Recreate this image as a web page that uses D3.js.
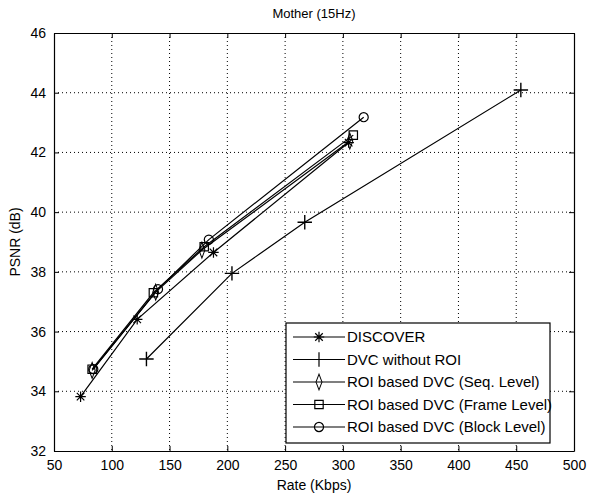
<!DOCTYPE html>
<html>
<head>
<meta charset="utf-8">
<script src="https://cdn.jsdelivr.net/npm/d3@7"></script>
<style>
  body { margin: 0; background: #fff; }
  text { font-family: "Liberation Sans", Arial, sans-serif; fill: #000; }
</style>
</head>
<body>
<script>
// Chart data
var seriesNames = ["DISCOVER", "DVC without ROI", "ROI based DVC (Seq. Level)",
  "ROI based DVC (Frame Level)", "ROI based DVC (Block Level)"];
var seriesMarkers = ["asterisk", "plus", "diamond", "square", "circle"];

var discoverRate = [73, 122, 188, 305];
var discoverPsnr = [33.82, 36.41, 38.65, 42.33];
var noRoiRate = [130, 204, 267, 454];
var noRoiPsnr = [35.08, 37.95, 39.66, 44.09];
var seqRate = [83, 138, 178, 306];
var seqPsnr = [34.7, 37.32, 38.73, 42.38];
var frameRate = [83, 136, 180, 309];
var framePsnr = [34.74, 37.3, 38.84, 42.58];
var blockRate = [84, 140, 184, 318];
var blockPsnr = [34.74, 37.42, 39.08, 43.18];

var xTicks = [50, 100, 150, 200, 250, 300, 350, 400, 450, 500];
var yTicks = [32, 34, 36, 38, 40, 42, 44, 46];

var allRates = [discoverRate, noRoiRate, seqRate, frameRate, blockRate];
var allPsnr = [discoverPsnr, noRoiPsnr, seqPsnr, framePsnr, blockPsnr];

// Define SVG area dimensions
var svgWidth = 590;
var svgHeight = 496;
var chartMargin = { top: 33, right: 16, bottom: 45, left: 54 };
var chartWidth = svgWidth - chartMargin.left - chartMargin.right;
var chartHeight = svgHeight - chartMargin.top - chartMargin.bottom;

var svg = d3.select("body").append("svg")
  .attr("width", svgWidth)
  .attr("height", svgHeight);

var chartGroup = svg.append("g")
  .attr("transform", `translate(${chartMargin.left}, ${chartMargin.top})`);

var xScale = d3.scaleLinear().domain([50, 500]).range([0, chartWidth]);
var yScale = d3.scaleLinear().domain([32, 46]).range([chartHeight, 0]);

// dotted grid
chartGroup.append("g").selectAll("line")
  .data(xTicks.slice(1, -1)).enter().append("line")
  .attr("x1", d => xScale(d)).attr("x2", d => xScale(d))
  .attr("y1", 0).attr("y2", chartHeight)
  .attr("stroke", "#000").attr("stroke-width", 1).attr("stroke-dasharray", "1,3");
chartGroup.append("g").selectAll("line")
  .data(yTicks.slice(1, -1)).enter().append("line")
  .attr("y1", d => yScale(d)).attr("y2", d => yScale(d))
  .attr("x1", 0).attr("x2", chartWidth)
  .attr("stroke", "#000").attr("stroke-width", 1).attr("stroke-dasharray", "1,3");

// axes, ticks pointing inward
var bottomAxis = d3.axisBottom(xScale).tickValues(xTicks).tickSizeInner(-5).tickSizeOuter(0).tickPadding(9);
var topAxis = d3.axisTop(xScale).tickValues(xTicks).tickSizeInner(-5).tickSizeOuter(0).tickFormat("");
var leftAxis = d3.axisLeft(yScale).tickValues(yTicks).tickSizeInner(-5).tickSizeOuter(0).tickPadding(8);
var rightAxis = d3.axisRight(yScale).tickValues(yTicks).tickSizeInner(-5).tickSizeOuter(0).tickFormat("");

chartGroup.append("g").attr("transform", `translate(0, ${chartHeight})`).call(bottomAxis);
chartGroup.append("g").call(topAxis);
chartGroup.append("g").call(leftAxis);
chartGroup.append("g").attr("transform", `translate(${chartWidth}, 0)`).call(rightAxis);

chartGroup.selectAll(".domain").attr("stroke", "#000").attr("stroke-width", 1.2);
chartGroup.selectAll(".tick line").attr("stroke", "#000");
chartGroup.selectAll(".tick text").style("font-size", "14px").attr("fill", "#000");

// MATLAB style '*' marker: a plus and a cross together
var matlabStar = {
  draw: function(context, size) {
    var r = Math.sqrt(size) / 2;
    var d = r * 0.72;
    context.moveTo(-r, 0); context.lineTo(r, 0);
    context.moveTo(0, -r); context.lineTo(0, r);
    context.moveTo(-d, -d); context.lineTo(d, d);
    context.moveTo(-d, d); context.lineTo(d, -d);
  }
};

function symbolFor(name) {
  var sym = {
    asterisk: matlabStar,
    plus: d3.symbolPlus,
    diamond: d3.symbolDiamond,
    square: d3.symbolSquare,
    circle: d3.symbolCircle
  }[name];
  var size = { asterisk: 110, plus: 70, diamond: 55, square: 70, circle: 65 }[name];
  return d3.symbol().type(sym).size(size)();
}

var line = d3.line()
  .x(d => xScale(d[0]))
  .y(d => yScale(d[1]));

allRates.forEach(function(rates, i) {
  var pts = rates.map((r, j) => [r, allPsnr[i][j]]);
  chartGroup.append("path")
    .datum(pts)
    .attr("d", line)
    .attr("fill", "none")
    .attr("stroke", "#000")
    .attr("stroke-width", 1.2);
  var m = seriesMarkers[i];
  chartGroup.append("g").selectAll("path")
    .data(pts).enter().append("path")
    .attr("d", symbolFor(m))
    .attr("transform", d => `translate(${xScale(d[0])}, ${yScale(d[1])})` + (m === "diamond" ? " scale(0.75,1.15)" : ""))
    .attr("fill", "none")
    .attr("stroke", "#000")
    .attr("stroke-width", m === "plus" ? 1.4 : 1.2);
});

// legend
var legend = svg.append("g").attr("transform", "translate(286, 323)");
legend.append("rect")
  .attr("width", 264).attr("height", 120)
  .attr("fill", "#fff").attr("stroke", "#000").attr("stroke-width", 1.2);

seriesNames.forEach(function(name, i) {
  var row = legend.append("g").attr("transform", `translate(0, ${14 + i * 22.5})`);
  row.append("line").attr("x1", 7).attr("x2", 59).attr("y1", 0).attr("y2", 0)
    .attr("stroke", "#000").attr("stroke-width", 1.2);
  var m = seriesMarkers[i];
  row.append("path")
    .attr("d", symbolFor(m))
    .attr("transform", "translate(33, 0)" + (m === "diamond" ? " scale(0.75,1.15)" : ""))
    .attr("fill", "none").attr("stroke", "#000").attr("stroke-width", 1.2);
  row.append("text").attr("x", 61).attr("y", 5)
    .style("font-size", "15px").text(name);
});

// title and axis labels
svg.append("text")
  .attr("x", chartMargin.left + chartWidth / 2).attr("y", 18)
  .attr("text-anchor", "middle").style("font-size", "13px")
  .text("Mother (15Hz)");

svg.append("text")
  .attr("x", chartMargin.left + chartWidth / 2).attr("y", 490)
  .attr("text-anchor", "middle").style("font-size", "14px")
  .text("Rate (Kbps)");

svg.append("text")
  .attr("transform", `translate(20, ${chartMargin.top + chartHeight / 2}) rotate(-90)`)
  .attr("text-anchor", "middle").style("font-size", "14px")
  .text("PSNR (dB)");
</script>
</body>
</html>
